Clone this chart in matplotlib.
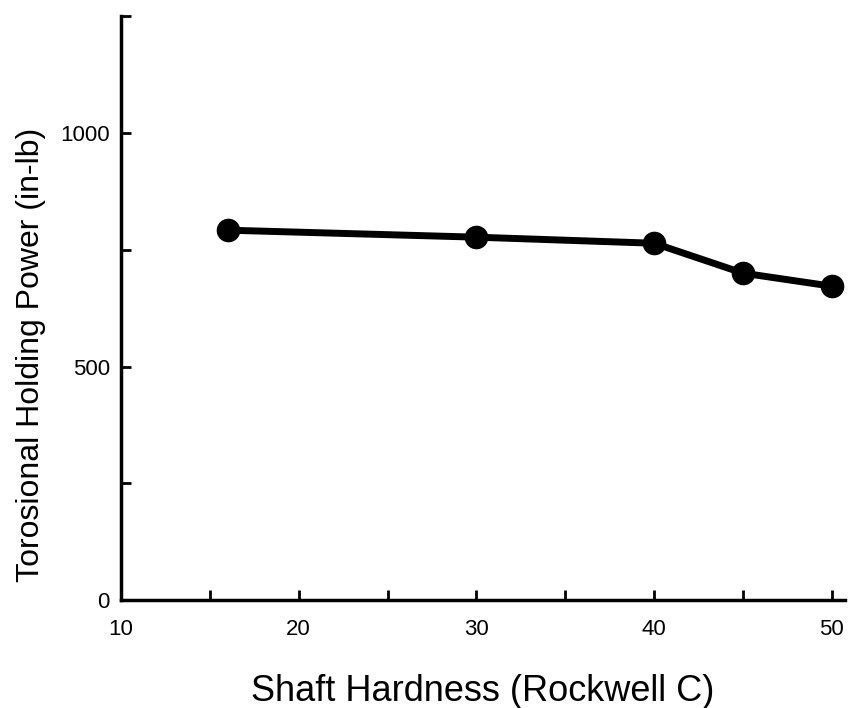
import matplotlib.pyplot as plt

# Rockwell C hardness vs torsional holding power
hardness = [16, 30, 40, 45, 50]
holding_power = [792, 777, 764, 700, 672]

x_ticks = [10, 15, 20, 25, 30, 35, 40, 45, 50]
x_labels = ['10', '', '20', '', '30', '', '40', '', '50']
y_ticks = [0, 250, 500, 750, 1000, 1250]
y_labels = ['0', '', '500', '', '1000', '']

plt.rcParams['font.family'] = ['Liberation Sans', 'DejaVu Sans']

fig = plt.figure(figsize=(8.49, 7.08), dpi=100)
ax = fig.add_axes([0.1425, 0.1525, 0.8525, 0.8245])

ax.plot(hardness, holding_power, color='black', linewidth=5,
        marker='o', markersize=16, solid_capstyle='round')

ax.set_xlim(10, 50.73)
ax.set_ylim(0, 1250)
ax.set_xticks(x_ticks)
ax.set_xticklabels(x_labels)
ax.set_yticks(y_ticks)
ax.set_yticklabels(y_labels)

for s in ['top', 'right']:
    ax.spines[s].set_visible(False)
for s in ['left', 'bottom']:
    ax.spines[s].set_linewidth(2.5)

ax.tick_params(direction='in', length=7, width=2, labelsize=16, pad=8)
ax.tick_params(axis='x', pad=14)

ax.set_xlabel('Shaft Hardness (Rockwell C)', fontsize=26, labelpad=24)
ax.set_ylabel('Torosional Holding Power (in-lb)', fontsize=23, labelpad=10)
# label sits a bit below the middle of the axis in the original
ax.yaxis.label.set_y(0.42)

fig.savefig('out.png', dpi=100)
